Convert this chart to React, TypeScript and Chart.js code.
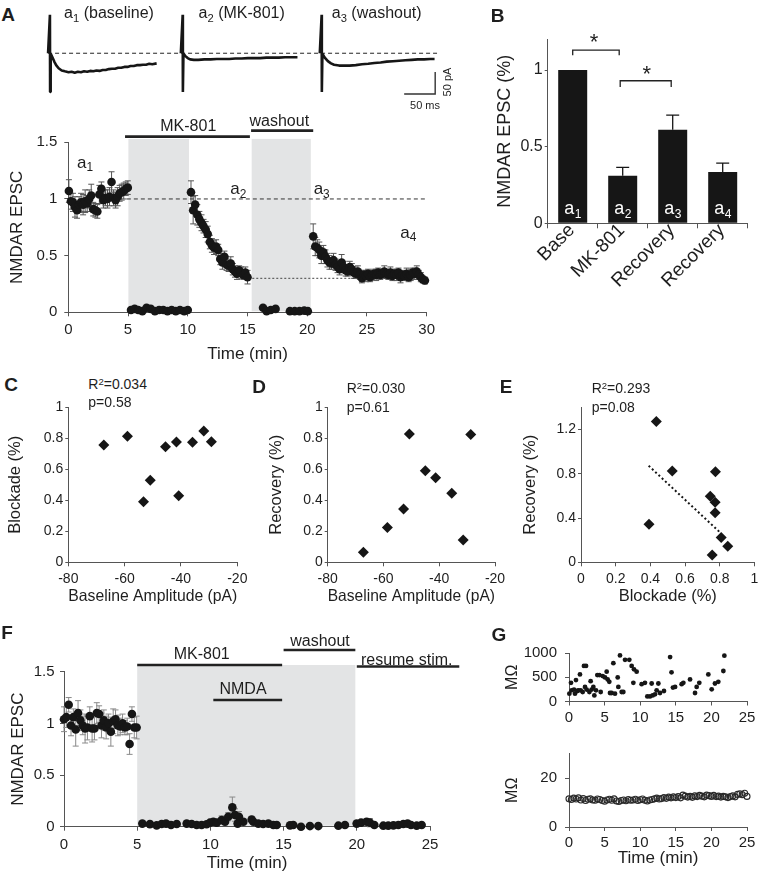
import React, { useEffect, useRef } from 'react';
import { Chart, registerables } from 'chart.js';

Chart.register(...registerables);

const FONT = '"Liberation Sans", Arial, Helvetica, sans-serif';
Chart.defaults.font.family = FONT;
Chart.defaults.color = '#1e1e1e';

const INK = '#161616';
const TXT = '#1e1e1e';
const AXIS = '#555555';
const SHADE = '#e3e4e5';

// ---------------- Panel A: example traces (ms, pA) ----------------
const traceStartsMs = [0, 214, 438];
const trace1 = [[-3, 0], [0, 87], [0.3, -88], [1.2, -1], [4, -9], [7, -19], [10, -27], [14, -34], [19, -39], [24, -41], [30, -43], [35, -42], [40, -44], [45, -42], [50, -43], [55, -41], [60, -42], [65, -40], [70, -41], [75, -39], [80, -40], [85, -38], [90, -38], [95, -36], [100, -35], [105, -35], [110, -33], [115, -33], [120, -31], [125, -31], [130, -29], [135, -29], [140, -27], [145, -27], [150, -26], [155, -26], [160, -24], [165, -25], [172, -23]];
const trace2 = [[-3, 0], [0, 87], [0.3, -88], [1.2, -1], [4, -6], [8, -11], [12, -14], [18, -15], [25, -15], [35, -14], [45, -14], [55, -13], [65, -13], [75, -13], [85, -12], [95, -12], [105, -11], [115, -11], [125, -11], [135, -10], [145, -10], [155, -10], [165, -9], [175, -9], [185, -9]];
const trace3 = [[-3, 0], [0, 87], [0.3, -88], [1.2, -1], [5, -10], [10, -18], [15, -23], [20, -26], [28, -28], [36, -28], [45, -28], [55, -27], [65, -25], [75, -24], [85, -22], [95, -21], [105, -19], [115, -18], [125, -17], [135, -16], [145, -15], [155, -14], [165, -14], [175, -13], [182, -13]];
const traceBaselineMs = [-3, 624];
const scaleBarMs = 50;
const scaleBarPA = 50;

// ---------------- Panel A: time course ----------------
const aBaseT = [0.05, 0.22, 0.39, 0.56, 0.73, 0.9, 1.07, 1.24, 1.41, 1.58, 1.75, 1.92, 2.09, 2.26, 2.43, 2.6, 2.77, 2.94, 3.11, 3.28, 3.45, 3.62, 3.79, 3.96, 4.13, 4.3, 4.47, 4.64, 4.81, 4.98];
const aBaseV = [1.07, 0.98, 0.97, 0.93, 0.9, 0.95, 0.97, 0.95, 0.98, 0.96, 1.0, 1.03, 0.91, 0.9, 0.89, 1.04, 1.09, 0.99, 1.01, 1.0, 1.02, 1.15, 1.01, 0.99, 1.02, 1.05, 1.06, 1.07, 1.09, 1.1];
const aBaseE = [0.1, 0.07, 0.08, 0.09, 0.07, 0.07, 0.08, 0.09, 0.1, 0.07, 0.08, 0.1, 0.06, 0.06, 0.06, 0.08, 0.06, 0.07, 0.07, 0.08, 0.08, 0.09, 0.07, 0.07, 0.08, 0.07, 0.07, 0.07, 0.06, 0.06];
const aMkT = [5.25, 5.55, 5.85, 6.2, 6.55, 6.9, 7.25, 7.6, 7.95, 8.3, 8.65, 9.0, 9.35, 9.7, 10.0];
const aMkV = [0.02, 0.03, 0.02, 0.01, 0.04, 0.03, 0.01, 0.02, 0.02, 0.01, 0.02, 0.01, 0.02, 0.01, 0.02];
const aDecT = [10.27, 10.45, 10.62, 10.8, 10.97, 11.15, 11.32, 11.5, 11.67, 11.85, 12.02, 12.2, 12.37, 12.55, 12.72, 12.9, 13.07, 13.25, 13.42, 13.6, 13.77, 13.95, 14.12, 14.3, 14.47, 14.65, 14.82, 15.0];
const aDecV = [1.06, 0.9, 0.95, 0.86, 0.82, 0.79, 0.76, 0.73, 0.69, 0.62, 0.59, 0.57, 0.58, 0.55, 0.47, 0.44, 0.49, 0.42, 0.41, 0.43, 0.38, 0.36, 0.34, 0.37, 0.35, 0.33, 0.35, 0.31];
const aDecE = [0.1, 0.12, 0.08, 0.09, 0.07, 0.07, 0.06, 0.07, 0.07, 0.06, 0.06, 0.06, 0.06, 0.05, 0.05, 0.06, 0.05, 0.05, 0.05, 0.06, 0.05, 0.05, 0.05, 0.04, 0.05, 0.04, 0.05, 0.06];
const aWashT = [16.3, 16.6, 16.95, 17.35, 18.55, 18.95, 19.35, 19.75, 20.05];
const aWashV = [0.04, 0.01, 0.02, 0.03, 0.01, 0.01, 0.01, 0.015, 0.01];
const aRecT = [20.5, 20.67, 20.84, 21.01, 21.18, 21.35, 21.52, 21.69, 21.86, 22.03, 22.2, 22.37, 22.54, 22.71, 22.88, 23.05, 23.22, 23.39, 23.56, 23.73, 23.9, 24.07, 24.24, 24.41, 24.58, 24.75, 24.92, 25.09, 25.26, 25.43, 25.6, 25.77, 25.94, 26.11, 26.28, 26.45, 26.62, 26.79, 26.96, 27.13, 27.3, 27.47, 27.64, 27.81, 27.98, 28.15, 28.32, 28.49, 28.66, 28.83, 29.0, 29.17, 29.34, 29.51, 29.68, 29.85];
const aRecV = [0.67, 0.58, 0.57, 0.55, 0.5, 0.53, 0.49, 0.46, 0.44, 0.43, 0.46, 0.42, 0.4, 0.38, 0.44, 0.4, 0.37, 0.36, 0.4, 0.38, 0.35, 0.34, 0.36, 0.33, 0.3, 0.33, 0.32, 0.34, 0.31, 0.33, 0.34, 0.33, 0.35, 0.33, 0.34, 0.36, 0.34, 0.33, 0.35, 0.32, 0.34, 0.33, 0.35, 0.31, 0.33, 0.32, 0.34, 0.31, 0.33, 0.35, 0.34, 0.36, 0.33, 0.31, 0.29, 0.28];
const aRecE = [0.11, 0.08, 0.07, 0.07, 0.07, 0.06, 0.06, 0.06, 0.06, 0.05, 0.06, 0.05, 0.05, 0.05, 0.07, 0.05, 0.05, 0.04, 0.05, 0.05, 0.05, 0.04, 0.05, 0.04, 0.04, 0.04, 0.05, 0.04, 0.04, 0.04, 0.04, 0.05, 0.04, 0.04, 0.04, 0.05, 0.04, 0.04, 0.05, 0.04, 0.04, 0.05, 0.04, 0.05, 0.04, 0.04, 0.05, 0.04, 0.05, 0.04, 0.05, 0.05, 0.04, 0.04, 0.03, 0.03];
const aRefLine1 = [4.9, 29.9];
const aRefLine2 = [15.4, 29.9];
const aTicksX = [0, 5, 10, 15, 20, 25, 30];
const aTicksXLabels = ['0', '5', '10', '15', '20', '25', '30'];
const aTicksY = [0, 0.5, 1, 1.5];
const aTicksYLabels = ['0', '0.5', '1', '1.5'];
const aShades = [[5.03, 10.1, 1.53], [15.35, 20.3, 1.53]];
const aBars = [[4.75, 15.2, 1.55], [15.3, 20.5, 1.603]];

// ---------------- Panel B ----------------
const bCats = ['Base', 'MK-801', 'Recovery', 'Recovery'];
const bVals = [1.0, 0.31, 0.61, 0.335];
const bErr = [0, 0.055, 0.095, 0.058];
const bTags = ['1', '2', '3', '4'];
const bTicksY = [0, 0.5, 1];
const bTicksYLabels = ['0', '0.5', '1'];
const bBrackets = [[0, 0.93, 1.13, 1.097], [0.95, 1.97, 0.93, 0.889]];

// ---------------- Panels C, D, E ----------------
const cAmp = [-67.4, -59.0, -53.3, -50.9, -45.5, -41.6, -40.8, -35.9, -31.9, -29.2];
const cBlock = [0.757, 0.813, 0.391, 0.529, 0.746, 0.776, 0.43, 0.774, 0.847, 0.778];
const dAmp = [-67.2, -58.6, -52.8, -50.7, -45.0, -41.3, -35.5, -31.4, -28.7];
const dRecov = [0.065, 0.224, 0.344, 0.828, 0.591, 0.546, 0.445, 0.144, 0.824];
const eBlock = [0.392, 0.434, 0.526, 0.745, 0.775, 0.773, 0.773, 0.756, 0.808, 0.846];
const eRecov = [0.343, 1.272, 0.824, 0.597, 0.818, 0.543, 0.448, 0.066, 0.224, 0.146];
const eTrendX = [0.39, 0.8];
const eTrendY = [0.872, 0.272];
const ampTicks = [-80, -60, -40, -20];
const ampTickLabels = ['-80', '-60', '-40', '-20'];
const fracTicks = [0, 0.2, 0.4, 0.6, 0.8, 1];
const fracTickLabels = ['0', '0.2', '0.4', '0.6', '0.8', '1'];
const eTicksY = [0, 0.4, 0.8, 1.2];
const eTicksYLabels = ['0', '0.4', '0.8', '1.2'];

// ---------------- Panel F ----------------
const fBaseT = [0.0, 0.16, 0.32, 0.48, 0.64, 0.8, 0.96, 1.12, 1.28, 1.44, 1.6, 1.76, 1.92, 2.08, 2.24, 2.4, 2.56, 2.72, 2.88, 3.04, 3.2, 3.36, 3.52, 3.68, 3.84, 4.0, 4.16, 4.32, 4.48, 4.64, 4.8, 4.96];
const fBaseV = [1.04, 1.06, 1.18, 0.98, 1.06, 0.94, 1.1, 1.03, 0.98, 0.95, 0.96, 1.07, 0.95, 0.95, 1.1, 1.09, 0.98, 1.03, 0.96, 1.0, 0.92, 1.02, 1.04, 0.98, 0.97, 1.0, 0.96, 0.97, 0.8, 1.09, 0.96, 0.96];
const fBaseE = [0.12, 0.1, 0.07, 0.1, 0.08, 0.16, 0.12, 0.1, 0.09, 0.14, 0.12, 0.09, 0.13, 0.11, 0.1, 0.08, 0.12, 0.1, 0.11, 0.09, 0.14, 0.12, 0.09, 0.1, 0.08, 0.09, 0.07, 0.08, 0.1, 0.07, 0.1, 0.11];
const fPostT = [5.35, 5.87, 6.33, 6.67, 6.97, 7.31, 7.7, 8.38, 8.72, 9.06, 9.4, 9.74, 9.97, 10.2, 10.43, 10.77, 11.0, 11.22, 11.5, 11.68, 11.86, 11.95, 12.25, 12.82, 12.93, 13.27, 13.6, 13.96, 14.3, 14.53, 15.44, 15.66, 16.19, 16.8, 17.37, 18.74, 19.19, 19.99, 20.29, 20.67, 20.9, 21.2, 21.81, 22.15, 22.5, 22.84, 23.18, 23.47, 23.7, 24.09, 24.43];
const fPostV = [0.03, 0.025, 0.013, 0.026, 0.03, 0.016, 0.026, 0.03, 0.026, 0.016, 0.016, 0.023, 0.039, 0.048, 0.039, 0.065, 0.048, 0.097, 0.187, 0.113, 0.03, 0.097, 0.048, 0.07, 0.048, 0.03, 0.026, 0.03, 0.016, 0.016, 0.013, 0.016, 0.0, 0.006, 0.006, 0.01, 0.016, 0.03, 0.039, 0.048, 0.039, 0.016, 0.01, 0.01, 0.013, 0.016, 0.026, 0.03, 0.016, 0.01, 0.016];
const fPostE = [0.01, 0.01, 0.01, 0.02, 0.02, 0.01, 0.02, 0.01, 0.01, 0.01, 0.01, 0.01, 0.02, 0.02, 0.02, 0.04, 0.03, 0.04, 0.1, 0.06, 0.02, 0.05, 0.03, 0.03, 0.02, 0.02, 0.01, 0.01, 0.01, 0.01, 0.01, 0.01, 0.01, 0.01, 0.01, 0.02, 0.01, 0.01, 0.02, 0.03, 0.04, 0.01, 0.01, 0.01, 0.01, 0.01, 0.01, 0.01, 0.01, 0.01, 0.01];
const fTicksX = [0, 5, 10, 15, 20, 25];
const fTicksXLabels = ['0', '5', '10', '15', '20', '25'];
const fShades = [[5.0, 19.9, 1.565]];
const fBars = [[5.0, 14.9, 1.565], [15.0, 19.9, 1.71], [20.0, 27.0, 1.55], [10.2, 14.9, 1.226]];

// ---------------- Panel G ----------------
const gAccT = [0.05, 0.28, 0.37, 0.7, 0.84, 0.98, 1.17, 1.31, 1.54, 1.64, 1.92, 2.1, 2.25, 2.39, 2.48, 2.86, 3.04, 3.18, 3.42, 3.56, 3.79, 3.98, 4.26, 4.45, 4.73, 5.06, 5.29, 5.43, 5.66, 5.76, 5.99, 6.23, 6.46, 6.84, 6.93, 7.16, 7.4, 7.63, 7.87, 8.47, 8.8, 9.04, 9.13, 9.5, 10.2, 10.67, 11.0, 11.38, 11.61, 11.75, 12.08, 12.31, 12.55, 12.78, 13.34, 14.2, 14.4, 14.6, 14.9, 15.82, 16.06, 17.0, 17.7, 17.93, 18.3, 19.57, 20.04, 20.5, 20.97, 21.68, 21.82];
const gAccV = [161, 385, 231, 245, 161, 441, 217, 231, 559, 231, 196, 734, 301, 734, 245, 196, 420, 245, 301, 126, 231, 545, 545, 196, 524, 497, 615, 455, 406, 175, 175, 790, 161, 497, 301, 951, 196, 196, 860, 860, 734, 385, 664, 615, 357, 385, 105, 105, 371, 126, 147, 231, 371, 175, 217, 916, 601, 287, 301, 357, 385, 455, 175, 301, 385, 559, 252, 371, 406, 629, 944];
const gResT = [0, 0.33, 0.67, 1, 1.33, 1.67, 2, 2.33, 2.67, 3, 3.33, 3.67, 4, 4.33, 4.67, 5, 5.33, 5.67, 6, 6.33, 6.67, 7, 7.33, 7.67, 8, 8.33, 8.67, 9, 9.33, 9.67, 10, 10.33, 10.67, 11, 11.33, 11.67, 12, 12.33, 12.67, 13, 13.33, 13.67, 14, 14.33, 14.67, 15, 15.33, 15.67, 16, 16.33, 16.67, 17, 17.33, 17.67, 18, 18.33, 18.67, 19, 19.33, 19.67, 20, 20.33, 20.67, 21, 21.33, 21.67, 22, 22.33, 22.67, 23, 23.33, 23.67, 24, 24.33, 24.67, 25];
const gResV = [11.5, 11.2, 11.8, 11.4, 11.9, 11.0, 11.6, 10.8, 11.3, 11.5, 11.0, 10.9, 11.4, 11.2, 10.8, 10.5, 11.0, 11.3, 10.9, 11.5, 10.6, 10.4, 10.8, 11.0, 10.7, 11.2, 10.9, 11.0, 11.3, 10.8, 11.1, 11.4, 10.9, 10.6, 11.0, 11.2, 11.5, 11.8, 11.4, 11.6, 12.0, 11.7, 12.2, 11.9, 12.3, 12.0, 12.4, 11.9, 13.0, 12.6, 12.2, 12.5, 12.1, 12.7, 12.4, 12.9, 12.6, 12.3, 13.0, 12.8, 12.5, 12.9, 12.4, 12.6, 12.2, 12.5, 12.3, 12.0, 12.4, 12.7, 12.3, 13.3, 13.6, 13.2, 13.8, 12.5];
const gTicksX = [0, 5, 10, 15, 20, 25];
const gTicksXLabels = ['0', '5', '10', '15', '20', '25'];
const gAccTicks = [0, 500, 1000];
const gAccTickLabels = ['0', '500', '1000'];
const gResTicks = [0, 20];
const gResTickLabels = ['0', '20'];

// ---------------- helpers ----------------
const pts = (xs: number[], ys: number[]) => xs.map((x, i) => ({ x, y: ys[i] }));

function drawErrorBars(chart: any, after: boolean) {
  const ctx = chart.ctx;
  chart.data.datasets.forEach((ds: any, i: number) => {
    const eb = ds.errorBars;
    if (!eb || !!eb.after !== after) return;
    const meta = chart.getDatasetMeta(i);
    const ys = chart.scales[meta.yAxisID];
    ctx.save();
    ctx.strokeStyle = eb.color;
    ctx.lineWidth = eb.width;
    meta.data.forEach((el: any, j: number) => {
      const e = eb.values[j];
      if (!e) return;
      const raw = ds.data[j];
      const v = typeof raw === 'number' ? raw : raw.y;
      const x = el.x;
      const yHi = ys.getPixelForValue(v + e);
      const yLo = eb.upOnly ? ys.getPixelForValue(v) : ys.getPixelForValue(v - e);
      const c = eb.cap / 2;
      ctx.beginPath();
      ctx.moveTo(x, yLo);
      ctx.lineTo(x, yHi);
      ctx.moveTo(x - c, yHi);
      ctx.lineTo(x + c, yHi);
      if (!eb.upOnly) {
        ctx.moveTo(x - c, yLo);
        ctx.lineTo(x + c, yLo);
      }
      ctx.stroke();
    });
    ctx.restore();
  });
}
const errorBarsPlugin = {
  id: 'errorBars',
  beforeDatasetsDraw(chart: any) { drawErrorBars(chart, false); },
  afterDatasetsDraw(chart: any) { drawErrorBars(chart, true); },
};

function periodsPlugin(shades: number[][], bars: number[][], barWidth: number) {
  return {
    id: 'periods',
    beforeDatasetsDraw(chart: any) {
      const { ctx, chartArea } = chart;
      const xs = chart.scales.x;
      const ys = chart.scales.y;
      ctx.save();
      ctx.fillStyle = SHADE;
      shades.forEach(([a, b, top]) => {
        const x0 = xs.getPixelForValue(a);
        const x1 = xs.getPixelForValue(b);
        const yt = ys.getPixelForValue(top);
        ctx.fillRect(x0, yt, x1 - x0, chartArea.bottom - 1 - yt);
      });
      ctx.strokeStyle = '#222';
      ctx.lineWidth = barWidth;
      bars.forEach(([a, b, yv]) => {
        const yy = ys.getPixelForValue(yv);
        ctx.beginPath();
        ctx.moveTo(xs.getPixelForValue(a), yy);
        ctx.lineTo(xs.getPixelForValue(b), yy);
        ctx.stroke();
      });
      ctx.restore();
    },
  };
}

const bracketsPlugin = {
  id: 'brackets',
  afterDatasetsDraw(chart: any) {
    const { ctx } = chart;
    const xs = chart.scales.x;
    const ys = chart.scales.y;
    ctx.save();
    ctx.strokeStyle = '#222';
    ctx.lineWidth = 1.3;
    bBrackets.forEach(([a, b, top, drop]) => {
      const x0 = xs.getPixelForValue(a);
      const x1 = xs.getPixelForValue(b);
      const yt = ys.getPixelForValue(top);
      const yd = ys.getPixelForValue(drop);
      ctx.beginPath();
      ctx.moveTo(x0, yd);
      ctx.lineTo(x0, yt);
      ctx.lineTo(x1, yt);
      ctx.lineTo(x1, yd);
      ctx.stroke();
    });
    // white a_n tags inside bars
    ctx.fillStyle = '#ffffff';
    ctx.textBaseline = 'alphabetic';
    const meta = chart.getDatasetMeta(0);
    meta.data.forEach((el: any, i: number) => {
      ctx.font = `18px ${FONT}`;
      const w1 = ctx.measureText('a').width;
      ctx.font = `12px ${FONT}`;
      const w2 = ctx.measureText(bTags[i]).width;
      const x = el.x - (w1 + w2) / 2;
      const y = ys.getPixelForValue(0) - 9;
      ctx.font = `18px ${FONT}`;
      ctx.fillText('a', x, y);
      ctx.font = `12px ${FONT}`;
      ctx.fillText(bTags[i], x + w1 + 0.5, y + 4);
    });
    ctx.restore();
  },
};

type Box = { left: number; top: number; width: number; height: number };
type Area = { x0: number; y0: number; x1: number; y1: number };
type Frame = { layout: any; yW: number; xH: number };

function frameOf(b: Box, a: Area): Frame {
  return {
    layout: { padding: { left: 0, top: a.y0 - b.top, right: b.left + b.width - a.x1, bottom: 0 } },
    yW: a.x0 - b.left,
    xH: b.top + b.height - a.y1,
  };
}

function fitter(isY: boolean, size: number) {
  return (s: any) => {
    if (isY) s.width = size; else s.height = size;
    s.paddingLeft = 0; s.paddingRight = 0; s.paddingTop = 0; s.paddingBottom = 0;
  };
}

function linAxis(o: any) {
  const isY = o.axis === 'y';
  return {
    type: 'linear',
    min: o.min,
    max: o.max,
    afterBuildTicks: (s: any) => { s.ticks = o.ticks.map((v: number) => ({ value: v })); },
    afterFit: fitter(isY, o.size),
    ticks: {
      autoSkip: false, maxRotation: 0, minRotation: 0, padding: o.pad,
      font: { size: o.font }, color: TXT,
      callback: (_v: any, i: number) => o.labels[i],
    },
    grid: { display: true, drawOnChartArea: false, drawTicks: true, tickLength: o.tick, tickColor: AXIS, color: AXIS, lineWidth: 1 },
    border: { display: true, color: AXIS, width: 1 },
    title: o.title
      ? { display: true, text: o.title, color: TXT, font: { size: o.titleSize }, padding: isY ? { top: o.titlePad, bottom: 0 } : { top: 0, bottom: o.titlePad } }
      : { display: false },
  };
}

function baseOptions(f: Frame, scales: any) {
  return {
    responsive: false,
    animation: false,
    events: [],
    layout: f.layout,
    plugins: { legend: { display: false }, tooltip: { enabled: false }, title: { display: false } },
    scales,
  };
}

function ChartCanvas({ box, area, make }: { box: Box; area: Area; make: (f: Frame) => any }) {
  const ref = useRef<HTMLCanvasElement>(null);
  useEffect(() => {
    const chart = new Chart(ref.current as HTMLCanvasElement, make(frameOf(box, area)));
    return () => chart.destroy();
  }, []);
  return (
    <canvas
      ref={ref}
      width={box.width}
      height={box.height}
      style={{ position: 'absolute', left: box.left, top: box.top, width: box.width, height: box.height }}
    />
  );
}

function Txt({ x, y, size = 16, bold = false, rot = 0, anchor = 'c', children }: any) {
  const tr = (anchor === 'l' ? 'translate(0,-50%)' : 'translate(-50%,-50%)') + (rot ? ` rotate(${rot}deg)` : '');
  return (
    <div style={{ position: 'absolute', left: x, top: y, transform: tr, fontFamily: FONT, fontSize: size, fontWeight: bold ? 700 : 400, color: TXT, whiteSpace: 'nowrap', lineHeight: 1 }}>
      {children}
    </div>
  );
}
const Sub = ({ children }: any) => <span style={{ fontSize: '0.7em', position: 'relative', top: '0.3em' }}>{children}</span>;
const Sup = ({ children }: any) => <span style={{ fontSize: '0.68em', position: 'relative', top: '-0.45em' }}>{children}</span>;

const dot = { pointRadius: 4.3, pointBackgroundColor: INK, pointBorderWidth: 0, showLine: false, clip: false };

// ---------------- chart configs ----------------
const tracesCfg = (f: Frame) => {
  const traces = [trace1, trace2, trace3].map((tr, i) => ({
    data: tr.map(([t, v]) => ({ x: t + traceStartsMs[i], y: v })),
    borderColor: INK, borderWidth: 2.6, borderJoinStyle: 'bevel', pointRadius: 0, tension: 0, clip: false,
  }));
  const sbX = traceStartsMs[2] + 183;
  const sbY = -92.5;
  return {
    type: 'line',
    data: {
      datasets: [
        ...traces,
        { data: traceBaselineMs.map((x) => ({ x, y: 0 })), borderColor: '#222', borderWidth: 1, borderDash: [4, 3], pointRadius: 0, clip: false },
        { data: [{ x: sbX - scaleBarMs, y: sbY }, { x: sbX, y: sbY }, { x: sbX, y: sbY + scaleBarPA }], borderColor: '#333', borderWidth: 1.4, pointRadius: 0, clip: false },
      ],
    },
    options: baseOptions(f, {
      x: { type: 'linear', display: false, min: -16, max: 661 },
      y: { type: 'linear', display: false, min: -106, max: 98 },
    }),
  };
};

const aCfg = (f: Frame) => ({
  type: 'scatter',
  data: {
    datasets: [
      { ...dot, data: pts(aBaseT, aBaseV), errorBars: { values: aBaseE, color: '#555', width: 1, cap: 6 } },
      { ...dot, data: pts(aMkT, aMkV) },
      { ...dot, data: pts(aDecT, aDecV), errorBars: { values: aDecE, color: '#555', width: 1, cap: 6 } },
      { ...dot, data: pts(aWashT, aWashV) },
      { ...dot, data: pts(aRecT, aRecV), errorBars: { values: aRecE, color: '#555', width: 1, cap: 6 } },
      { data: aRefLine1.map((x) => ({ x, y: 1 })), showLine: true, borderColor: '#333', borderWidth: 1, borderDash: [4, 3], pointRadius: 0 },
      { data: aRefLine2.map((x) => ({ x, y: 0.3 })), showLine: true, borderColor: '#444', borderWidth: 1, borderDash: [2, 2], pointRadius: 0 },
    ],
  },
  options: baseOptions(f, {
    x: linAxis({ axis: 'x', min: 0, max: 30, ticks: aTicksX, labels: aTicksXLabels, size: f.xH, font: 15, pad: 5, tick: 4, title: 'Time (min)', titleSize: 17, titlePad: 7.5 }),
    y: linAxis({ axis: 'y', min: 0, max: 1.5, ticks: aTicksY, labels: aTicksYLabels, size: f.yW, font: 15, pad: 7, tick: 4, title: 'NMDAR EPSC', titleSize: 17, titlePad: 7.3 }),
  }),
  plugins: [periodsPlugin(aShades, aBars, 2.6), errorBarsPlugin],
});

const bCfg = (f: Frame) => ({
  type: 'bar',
  data: {
    labels: bCats,
    datasets: [
      { data: bVals, backgroundColor: INK, borderWidth: 0, barPercentage: 0.58, categoryPercentage: 1, errorBars: { values: bErr, color: INK, width: 1.3, cap: 13, upOnly: true, after: true } },
    ],
  },
  options: baseOptions(f, {
    x: {
      type: 'category', offset: true,
      afterFit: fitter(false, f.xH),
      ticks: { autoSkip: false, minRotation: 45, maxRotation: 45, padding: -9, labelOffset: -1, font: { size: 19 }, color: TXT },
      grid: { display: true, offset: true, drawOnChartArea: false, drawTicks: true, tickLength: 5, color: AXIS, tickColor: AXIS },
      border: { display: true, color: AXIS, width: 1 },
    },
    y: linAxis({ axis: 'y', min: 0, max: 1.2, ticks: bTicksY, labels: bTicksYLabels, size: f.yW, font: 16, pad: 2, tick: 3, title: 'NMDAR EPSC (%)', titleSize: 18, titlePad: 19.2 }),
  }),
  plugins: [errorBarsPlugin, bracketsPlugin],
});

const diamond = { pointStyle: 'rectRot', pointRadius: 5.5, pointBackgroundColor: INK, pointBorderWidth: 0, showLine: false, clip: false };

const scatterCfg = (f: Frame, o: any) => ({
  type: 'scatter',
  data: { datasets: o.datasets },
  options: baseOptions(f, {
    x: linAxis({ axis: 'x', min: o.xMin, max: o.xMax, ticks: o.xTicks, labels: o.xLabels, size: f.xH, font: 14, pad: 4.5, tick: 4, title: o.xTitle, titleSize: 16.5, titlePad: 3.5 }),
    y: linAxis({ axis: 'y', min: o.yMin, max: o.yMax, ticks: o.yTicks, labels: o.yLabels, size: f.yW, font: 14, pad: 2, tick: 3, title: o.yTitle, titleSize: 16.5, titlePad: o.yTitlePad }),
  }),
});

const cCfg = (f: Frame) => scatterCfg(f, {
  datasets: [{ ...diamond, data: pts(cAmp, cBlock) }],
  xMin: -80, xMax: -20, xTicks: ampTicks, xLabels: ampTickLabels, xTitle: 'Baseline Amplitude (pA)',
  yMin: 0, yMax: 1, yTicks: fracTicks, yLabels: fracTickLabels, yTitle: 'Blockade (%)', yTitlePad: 5.1,
});
const dCfg = (f: Frame) => scatterCfg(f, {
  datasets: [{ ...diamond, data: pts(dAmp, dRecov) }],
  xMin: -80, xMax: -20, xTicks: ampTicks, xLabels: ampTickLabels, xTitle: 'Baseline Amplitude (pA)',
  yMin: 0, yMax: 1, yTicks: fracTicks, yLabels: fracTickLabels, yTitle: 'Recovery (%)', yTitlePad: 11.8,
});
const eCfg = (f: Frame) => scatterCfg(f, {
  datasets: [
    { ...diamond, data: pts(eBlock, eRecov) },
    { data: pts(eTrendX, eTrendY), showLine: true, borderColor: INK, borderWidth: 2, borderDash: [2, 2.5], pointRadius: 0 },
  ],
  xMin: 0, xMax: 1, xTicks: fracTicks, xLabels: fracTickLabels, xTitle: 'Blockade (%)',
  yMin: 0, yMax: 1.4, yTicks: eTicksY, yLabels: eTicksYLabels, yTitle: 'Recovery (%)', yTitlePad: 15.1,
});

const fCfg = (f: Frame) => ({
  type: 'scatter',
  data: {
    datasets: [
      { ...dot, data: pts(fBaseT, fBaseV), errorBars: { values: fBaseE, color: '#8a8a8a', width: 1, cap: 6 } },
      { ...dot, data: pts(fPostT, fPostV), errorBars: { values: fPostE, color: '#8a8a8a', width: 1, cap: 6 } },
    ],
  },
  options: baseOptions(f, {
    x: linAxis({ axis: 'x', min: 0, max: 25, ticks: fTicksX, labels: fTicksXLabels, size: f.xH, font: 15, pad: 5.5, tick: 4, title: 'Time (min)', titleSize: 17, titlePad: 1.8 }),
    y: linAxis({ axis: 'y', min: 0, max: 1.5, ticks: aTicksY, labels: aTicksYLabels, size: f.yW, font: 15, pad: 5.5, tick: 4, title: 'NMDAR EPSC', titleSize: 17, titlePad: 7.8 }),
  }),
  plugins: [periodsPlugin(fShades, fBars, 2.6), errorBarsPlugin],
});

const gTopCfg = (f: Frame) => ({
  type: 'scatter',
  data: { datasets: [{ data: pts(gAccT, gAccV), pointRadius: 2.4, pointBackgroundColor: INK, pointBorderWidth: 0, clip: false }] },
  options: baseOptions(f, {
    x: linAxis({ axis: 'x', min: 0, max: 25, ticks: gTicksX, labels: gTicksXLabels, size: f.xH, font: 15, pad: 3, tick: 4 }),
    y: linAxis({ axis: 'y', min: 0, max: 1000, ticks: gAccTicks, labels: gAccTickLabels, size: f.yW, font: 15, pad: 8, tick: 4, title: 'MΩ', titleSize: 16, titlePad: 3.4 }),
  }),
});

const gBotCfg = (f: Frame) => ({
  type: 'scatter',
  data: { datasets: [{ data: pts(gResT, gResV), pointRadius: 3, pointBackgroundColor: 'rgba(255,255,255,0)', pointBorderColor: '#2a2a2a', pointBorderWidth: 1.1, clip: false }] },
  options: baseOptions(f, {
    x: linAxis({ axis: 'x', min: 0, max: 25, ticks: gTicksX, labels: gTicksXLabels, size: f.xH, font: 15, pad: 2.5, tick: 4, title: 'Time (min)', titleSize: 17, titlePad: 6.8 }),
    y: linAxis({ axis: 'y', min: 0, max: 30, ticks: gResTicks, labels: gResTickLabels, size: f.yW, font: 15, pad: 8, tick: 4, title: 'MΩ', titleSize: 16, titlePad: 3.4 }),
  }),
});

export default function App() {
  return (
    <div style={{ position: 'absolute', left: 0, top: 0, width: 760, height: 875, background: '#fff', overflow: 'hidden' }}>
      <ChartCanvas box={{ left: 40, top: 10, width: 420, height: 90 }} area={{ x0: 40, y0: 10, x1: 460, y1: 100 }} make={tracesCfg} />
      <ChartCanvas box={{ left: 0, top: 110, width: 460, height: 262 }} area={{ x0: 68.3, y0: 142.3, x1: 426.7, y1: 312.3 }} make={aCfg} />
      <ChartCanvas box={{ left: 475, top: 25, width: 285, height: 285 }} area={{ x0: 547.7, y0: 39.34, x1: 747.7, y1: 223.3 }} make={bCfg} />
      <ChartCanvas box={{ left: 0, top: 395, width: 250, height: 215 }} area={{ x0: 68.3, y0: 407.3, x1: 237.3, y1: 562.3 }} make={cCfg} />
      <ChartCanvas box={{ left: 255, top: 395, width: 255, height: 215 }} area={{ x0: 327.7, y0: 407.3, x1: 495, y1: 562.3 }} make={dCfg} />
      <ChartCanvas box={{ left: 505, top: 395, width: 255, height: 215 }} area={{ x0: 581, y0: 407.3, x1: 755, y1: 562.3 }} make={eCfg} />
      <ChartCanvas box={{ left: 0, top: 625, width: 470, height: 250 }} area={{ x0: 64, y0: 671.7, x1: 430, y1: 826.7 }} make={fCfg} />
      <ChartCanvas box={{ left: 500, top: 640, width: 260, height: 95 }} area={{ x0: 569, y0: 653, x1: 747, y1: 701.5 }} make={gTopCfg} />
      <ChartCanvas box={{ left: 500, top: 740, width: 260, height: 135 }} area={{ x0: 569, y0: 753.5, x1: 747, y1: 827 }} make={gBotCfg} />

      {/* Panel A annotations */}
      <Txt x={8} y={14} size={19} bold>A</Txt>
      <Txt x={109} y={13.3}>a<Sub>1</Sub> (baseline)</Txt>
      <Txt x={241.7} y={13.3}>a<Sub>2</Sub> (MK-801)</Txt>
      <Txt x={376.7} y={13.3}>a<Sub>3</Sub> (washout)</Txt>
      <Txt x={446.7} y={81.7} size={11} rot={-90}>50 pA</Txt>
      <Txt x={425} y={105} size={11}>50 ms</Txt>
      <Txt x={188.3} y={125.7}>MK-801</Txt>
      <Txt x={279.3} y={120.7}>washout</Txt>
      <Txt x={85} y={161.7} size={17}>a<Sub>1</Sub></Txt>
      <Txt x={238.3} y={188.3} size={17}>a<Sub>2</Sub></Txt>
      <Txt x={321.7} y={188.3} size={17}>a<Sub>3</Sub></Txt>
      <Txt x={408.3} y={231.7} size={17}>a<Sub>4</Sub></Txt>

      {/* Panel B */}
      <Txt x={497.5} y={15} size={19} bold>B</Txt>
      <Txt x={594} y={42} size={22}>*</Txt>
      <Txt x={646.7} y={74} size={22}>*</Txt>

      {/* Panels C, D, E */}
      <Txt x={11} y={384} size={19} bold>C</Txt>
      <Txt x={88.3} y={384} size={14} anchor="l">R<Sup>2</Sup>=0.034</Txt>
      <Txt x={88.3} y={402.3} size={14} anchor="l">p=0.58</Txt>
      <Txt x={259} y={386} size={19} bold>D</Txt>
      <Txt x={346.7} y={388} size={14} anchor="l">R<Sup>2</Sup>=0.030</Txt>
      <Txt x={346.7} y={406.5} size={14} anchor="l">p=0.61</Txt>
      <Txt x={506} y={386} size={19} bold>E</Txt>
      <Txt x={591.7} y={388} size={14} anchor="l">R<Sup>2</Sup>=0.293</Txt>
      <Txt x={591.7} y={406.5} size={14} anchor="l">p=0.08</Txt>

      {/* Panel F */}
      <Txt x={7} y={632} size={19} bold>F</Txt>
      <Txt x={201.7} y={653.8}>MK-801</Txt>
      <Txt x={320} y={640.7}>washout</Txt>
      <Txt x={406.7} y={660}>resume stim.</Txt>
      <Txt x={243} y={689}>NMDA</Txt>

      {/* Panel G */}
      <Txt x={499} y={634} size={19} bold>G</Txt>
    </div>
  );
}
